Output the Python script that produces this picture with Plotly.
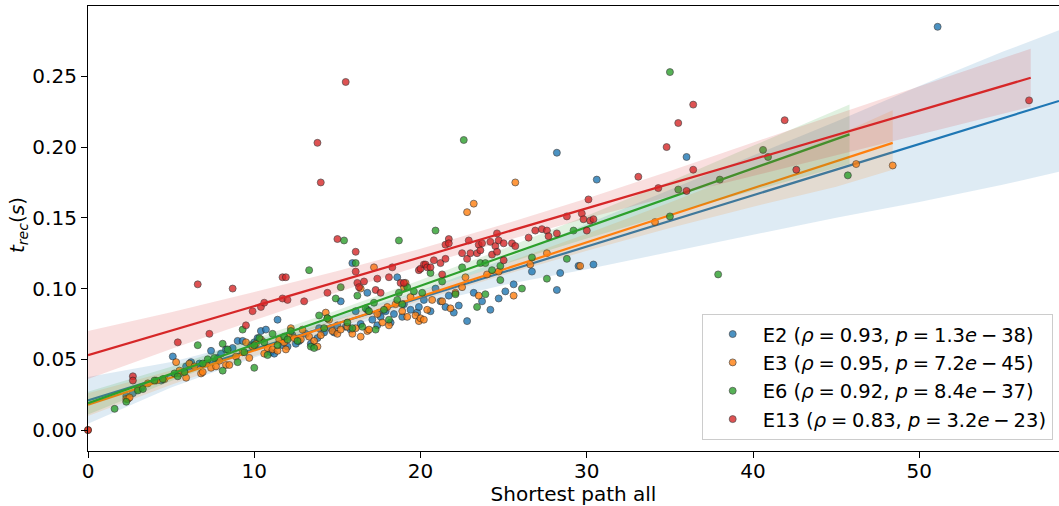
import plotly.graph_objects as go

# ---------------- data ----------------
series_names = ["E2", "E3", "E6", "E13"]
EQ = "\u2005=\u2005"
MI = "\u2009\u2212\u2009"
legend_labels = [
    "E2 (<i>ρ</i>" + EQ + "0.93, <i>p</i>" + EQ + "1.3<i>e</i>" + MI + "38)",
    "E3 (<i>ρ</i>" + EQ + "0.95, <i>p</i>" + EQ + "7.2<i>e</i>" + MI + "45)",
    "E6 (<i>ρ</i>" + EQ + "0.92, <i>p</i>" + EQ + "8.4<i>e</i>" + MI + "37)",
    "E13 (<i>ρ</i>" + EQ + "0.83, <i>p</i>" + EQ + "3.2<i>e</i>" + MI + "23)",
]
colors = ["#1f77b4", "#ff7f0e", "#2ca02c", "#d62728"]
band_fills = ["rgba(31,119,180,0.15)", "rgba(255,127,14,0.15)",
              "rgba(44,160,44,0.15)", "rgba(214,39,40,0.15)"]

e2_x = [2.3, 2.7, 3.2, 4.4, 5.1, 5.5, 5.9, 6.2, 6.7, 7.4, 7.8, 8.0, 8.3, 8.7, 9.0, 9.3, 9.8,
        10.0, 10.2, 10.4, 10.7, 11.0, 11.2, 11.4, 11.7, 12.0, 12.3, 12.5, 12.7, 13.1, 13.4,
        13.8, 13.9, 14.2, 14.6, 14.8, 15.0, 15.2, 15.5, 15.8, 15.9, 16.1, 16.4, 16.8, 16.8,
        17.1, 17.4, 17.5, 17.6, 17.9, 18.2, 18.4, 18.6, 18.9, 19.0, 19.4, 19.8, 19.9, 20.2,
        20.6, 20.9, 21.2, 21.5, 21.7, 22.0, 22.3, 22.8, 23.2, 23.7, 24.2, 24.7, 25.1, 25.6,
        26.7, 28.2, 28.2, 28.4, 29.5, 30.4, 30.6, 36.0, 51.1]
e2_y = [0.024, 0.026, 0.030, 0.035, 0.052, 0.040, 0.045, 0.048, 0.047, 0.056, 0.051, 0.054,
        0.057, 0.058, 0.063, 0.063, 0.060, 0.062, 0.065, 0.070, 0.071, 0.055, 0.054, 0.078,
        0.060, 0.059, 0.067, 0.061, 0.063, 0.068, 0.061, 0.065, 0.072, 0.069, 0.072, 0.069,
        0.074, 0.091, 0.073, 0.071, 0.118, 0.084, 0.075, 0.085, 0.097, 0.078, 0.074, 0.083,
        0.080, 0.084, 0.076, 0.082, 0.108, 0.080, 0.089, 0.085, 0.083, 0.087, 0.092, 0.084,
        0.100, 0.091, 0.087, 0.095, 0.083, 0.088, 0.077, 0.097, 0.091, 0.085, 0.093, 0.098,
        0.103, 0.112, 0.099, 0.196, 0.111, 0.116, 0.117, 0.177, 0.193, 0.285]

e3_x = [0.0, 2.3, 2.4, 2.5, 3.0, 3.6, 4.1, 4.6, 5.3, 5.5, 5.9, 6.1, 6.4, 6.8, 6.9, 7.1, 7.4,
        7.7, 7.9, 8.3, 8.5, 8.9, 9.3, 9.5, 9.7, 9.9, 10.1, 10.4, 10.6, 10.8, 11.1, 11.4, 11.5,
        11.8, 11.9, 12.1, 12.2, 12.4, 12.8, 12.9, 13.3, 13.6, 13.8, 14.0, 14.3, 14.4, 14.5,
        14.7, 15.0, 15.2, 15.6, 15.9, 16.1, 16.4, 16.4, 16.8, 16.9, 17.2, 17.4, 17.7, 18.0,
        18.1, 18.5, 18.9, 19.0, 19.1, 19.2, 19.4, 19.7, 19.9, 20.0, 20.2, 20.4, 20.7, 21.3,
        21.8, 22.1, 22.5, 22.7, 22.8, 23.2, 23.5, 24.0, 24.7, 25.6, 25.7, 26.6, 27.6, 29.6,
        34.1, 46.2, 48.4]
e3_y = [0.000, 0.022, 0.022, 0.023, 0.029, 0.033, 0.035, 0.036, 0.048, 0.042, 0.037, 0.047,
        0.045, 0.040, 0.041, 0.047, 0.044, 0.045, 0.049, 0.046, 0.046, 0.052, 0.055, 0.062,
        0.051, 0.059, 0.061, 0.064, 0.054, 0.058, 0.057, 0.056, 0.064, 0.062, 0.057, 0.066,
        0.072, 0.065, 0.064, 0.071, 0.066, 0.063, 0.059, 0.067, 0.083, 0.079, 0.078, 0.070,
        0.068, 0.071, 0.073, 0.068, 0.072, 0.066, 0.100, 0.070, 0.071, 0.115, 0.082, 0.076,
        0.087, 0.074, 0.089, 0.084, 0.101, 0.104, 0.080, 0.094, 0.081, 0.077, 0.079, 0.078,
        0.085, 0.092, 0.091, 0.086, 0.097, 0.101, 0.108, 0.154, 0.160, 0.095, 0.110, 0.112,
        0.095, 0.175, 0.117, 0.125, 0.116, 0.147, 0.188, 0.187]

e6_x = [1.6, 2.3, 3.0, 3.3, 4.0, 4.5, 5.2, 5.4, 5.8, 6.6, 6.9, 7.2, 7.6, 8.1, 8.1, 8.4, 9.0,
        9.3, 9.4, 10.0, 10.0, 10.3, 10.6, 10.8, 11.1, 11.4, 11.8, 12.0, 12.2, 12.6, 13.3, 13.4,
        13.6, 13.9, 14.2, 14.4, 14.9, 15.2, 15.4, 15.6, 15.9, 16.1, 16.2, 16.5, 16.7, 16.9,
        17.2, 17.3, 17.8, 18.1, 18.6, 18.7, 18.7, 18.9, 19.2, 19.6, 20.1, 20.6, 20.9, 21.3,
        22.1, 22.5, 22.6, 23.4, 23.6, 23.9, 23.9, 24.3, 24.8, 24.8, 26.1, 26.7, 27.6, 28.8,
        29.2, 35.0, 35.0, 35.5, 37.9, 38.0, 40.6, 40.9, 45.7]
e6_y = [0.015, 0.020, 0.028, 0.029, 0.035, 0.036, 0.040, 0.038, 0.041, 0.060, 0.047, 0.050,
        0.051, 0.042, 0.061, 0.057, 0.048, 0.071, 0.055, 0.044, 0.060, 0.065, 0.062, 0.053,
        0.068, 0.060, 0.066, 0.064, 0.070, 0.063, 0.113, 0.059, 0.058, 0.081, 0.072, 0.079,
        0.093, 0.101, 0.134, 0.076, 0.072, 0.118, 0.095, 0.073, 0.086, 0.084, 0.090, 0.071,
        0.085, 0.078, 0.092, 0.097, 0.134, 0.089, 0.101, 0.098, 0.097, 0.111, 0.141, 0.105,
        0.096, 0.115, 0.205, 0.087, 0.118, 0.096, 0.118, 0.113, 0.116, 0.106, 0.100, 0.122,
        0.107, 0.121, 0.141, 0.253, 0.151, 0.170, 0.110, 0.177, 0.198, 0.193, 0.180]

e13_x = [0.0, 2.7, 2.7, 5.4, 6.6, 7.3, 8.7, 9.5, 9.9, 10.4, 10.6, 11.7, 11.7, 11.9, 12.0,
         13.0, 13.8, 14.0, 14.4, 15.0, 15.5, 16.1, 16.1, 16.2, 16.3, 16.6, 17.3, 17.4, 17.6,
         18.1, 18.3, 18.8, 19.0, 19.9, 20.0, 20.2, 20.3, 20.4, 20.6, 20.8, 21.2, 21.3, 21.5,
         21.5, 21.7, 21.7, 22.5, 22.8, 22.9, 23.0, 23.4, 23.5, 23.6, 23.7, 24.2, 24.3, 24.5,
         24.6, 24.6, 24.7, 25.0, 25.0, 25.5, 25.7, 26.5, 26.9, 27.3, 27.6, 27.7, 28.2, 28.8,
         29.7, 29.8, 30.0, 30.1, 30.2, 30.4, 33.1, 34.3, 34.8, 35.5, 36.0, 36.4, 36.4, 41.9,
         42.6, 56.6]
e13_y = [0.000, 0.038, 0.035, 0.062, 0.103, 0.068, 0.100, 0.074, 0.084, 0.087, 0.090, 0.108,
         0.093, 0.108, 0.092, 0.091, 0.203, 0.175, 0.097, 0.135, 0.246, 0.126, 0.112, 0.104,
         0.101, 0.105, 0.099, 0.107, 0.097, 0.108, 0.115, 0.104, 0.104, 0.113, 0.114, 0.117,
         0.117, 0.115, 0.115, 0.120, 0.118, 0.110, 0.131, 0.121, 0.135, 0.132, 0.125, 0.121,
         0.134, 0.125, 0.125, 0.131, 0.127, 0.132, 0.133, 0.124, 0.130, 0.126, 0.139, 0.134,
         0.132, 0.120, 0.132, 0.130, 0.136, 0.141, 0.142, 0.141, 0.137, 0.139, 0.151, 0.153,
         0.149, 0.141, 0.163, 0.148, 0.149, 0.179, 0.171, 0.200, 0.217, 0.169, 0.230, 0.184,
         0.219, 0.184, 0.233]

# regression line end points
fit_x = [[0.0, 58.4], [0.0, 48.4], [0.0, 45.8], [0.0, 56.7]]
fit_y = [[0.021, 0.2326], [0.018, 0.203], [0.019, 0.209], [0.053, 0.249]]

# confidence bands
band_x = [
    [0, 5, 10, 15, 20, 25, 30, 35, 40, 45, 50, 55, 58.4],
    [0, 5, 10, 15, 20, 25, 30, 35, 40, 45, 48.4],
    [0, 5, 10, 15, 20, 25, 30, 35, 40, 45.8],
    [0, 5, 10, 15, 20, 25, 30, 35, 40, 45, 50, 56.7],
]
band_lo = [
    [0.0045, 0.0301, 0.0512, 0.0704, 0.0885, 0.1026, 0.1137, 0.1258, 0.1380, 0.1501, 0.1612, 0.1733, 0.1826],
    [0.010, 0.0321, 0.0522, 0.0723, 0.0914, 0.1096, 0.1267, 0.1428, 0.1579, 0.1720, 0.184],
    [0.011, 0.0347, 0.0565, 0.0777, 0.0980, 0.1172, 0.1354, 0.1527, 0.1689, 0.188],
    [0.036, 0.0573, 0.0776, 0.0974, 0.1161, 0.1334, 0.1497, 0.1650, 0.1793, 0.1941, 0.2089, 0.2285],
]
band_hi = [
    [0.0375, 0.0481, 0.0632, 0.0804, 0.0985, 0.1206, 0.1457, 0.1698, 0.1940, 0.2181, 0.2432, 0.2673, 0.2826],
    [0.026, 0.0421, 0.0602, 0.0783, 0.0974, 0.1176, 0.1387, 0.1608, 0.1839, 0.2080, 0.226],
    [0.027, 0.0447, 0.0645, 0.0847, 0.1060, 0.1282, 0.1514, 0.1757, 0.2009, 0.230],
    [0.070, 0.0833, 0.0976, 0.1124, 0.1281, 0.1454, 0.1637, 0.1830, 0.2033, 0.2231, 0.2429, 0.2695],
]

x_ticks = [0, 10, 20, 30, 40, 50]
y_ticks = [0.00, 0.05, 0.10, 0.15, 0.20, 0.25]
y_tick_labels = ["0.00", "0.05", "0.10", "0.15", "0.20", "0.25"]
x_title = "Shortest path all"
y_title = "<i>t</i><sub><i>rec</i></sub>(<i>s</i>)"

xs = [e2_x, e3_x, e6_x, e13_x]
ys = [e2_y, e3_y, e6_y, e13_y]

# ---------------- figure ----------------
fig = go.Figure()
for i in range(4):
    fig.add_trace(go.Scatter(
        x=xs[i], y=ys[i], mode="markers", name=legend_labels[i],
        legendgroup=series_names[i], cliponaxis=False,
        marker=dict(size=7, color=colors[i], opacity=0.8,
                    line=dict(width=0.7, color="#222222")),
    ))
    bx = band_x[i] + band_x[i][::-1]
    by = band_hi[i] + band_lo[i][::-1]
    fig.add_trace(go.Scatter(
        x=bx, y=by, mode="lines", fill="toself", fillcolor=band_fills[i],
        line=dict(width=0, color=band_fills[i]),
        showlegend=False, hoverinfo="skip", legendgroup=series_names[i],
    ))
    fig.add_trace(go.Scatter(
        x=fit_x[i], y=fit_y[i], mode="lines",
        line=dict(width=2.2, color=colors[i]),
        showlegend=False, hoverinfo="skip", legendgroup=series_names[i],
    ))

fig.update_layout(
    width=1059, height=506,
    margin=dict(l=88, r=0, t=6, b=55, autoexpand=False),
    paper_bgcolor="white", plot_bgcolor="white",
    font=dict(family="DejaVu Sans", size=20, color="black"),
    showlegend=True,
    legend=dict(
        x=0.9935, y=0.025, xanchor="right", yanchor="bottom",
        bgcolor="rgba(255,255,255,0.8)", bordercolor="#cccccc", borderwidth=1,
        font=dict(family="DejaVu Sans", size=19.5, color="black"),
        tracegroupgap=0, itemwidth=50,
    ),
    annotations=[dict(
        text=y_title, xref="paper", yref="paper", x=-0.072, y=0.508,
        xanchor="center", yanchor="middle", textangle=-90, showarrow=False,
        font=dict(family="DejaVu Sans", size=20, color="black"),
    )],
)
fig.update_xaxes(
    range=[0, 58.4], tickmode="array", tickvals=x_ticks,
    ticks="outside", ticklen=6, tickwidth=1.2, tickcolor="black",
    showline=True, linecolor="black", linewidth=1.2, mirror=True,
    showgrid=False, zeroline=False, automargin=False, ticklabelstandoff=-4,
    title=dict(text=x_title, standoff=10,
               font=dict(family="DejaVu Sans", size=20, color="black")),
)
fig.update_yaxes(
    range=[-0.0148, 0.2997], tickmode="array", tickvals=y_ticks, ticktext=y_tick_labels,
    ticks="outside", ticklen=6, tickwidth=1.2, tickcolor="black",
    showline=True, linecolor="black", linewidth=1.2, mirror=False,
    showgrid=False, zeroline=False, automargin=False,
)

fig.write_html(
    "out.html",
    config={"displayModeBar": False},
    post_script="document.body.style.margin='0px';document.body.style.overflow='hidden';",
)
